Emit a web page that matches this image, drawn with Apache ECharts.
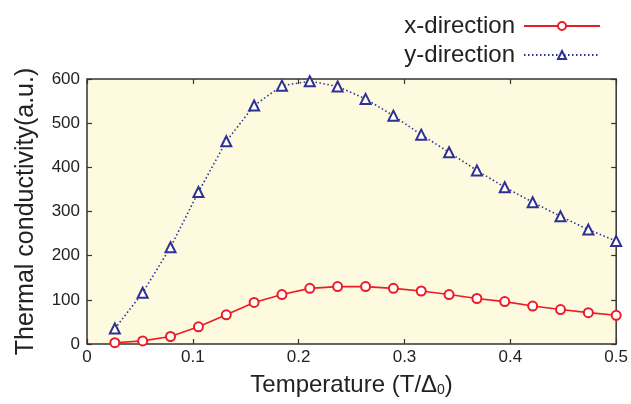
<!DOCTYPE html>
<html>
<head>
<meta charset="utf-8">
<script src="https://cdn.jsdelivr.net/npm/echarts@6/dist/echarts.min.js"></script>
<style>html,body{margin:0;padding:0;background:#fff;}#c{width:631px;height:404px;}</style>
</head>
<body>
<div id="c"></div>
<script>
// Temperature T/Δ0 : k/38 for k = 1..19
const temps = [0.0263,0.0526,0.0789,0.1053,0.1316,0.1579,0.1842,0.2105,0.2368,0.2632,0.2895,0.3158,0.3421,0.3684,0.3947,0.4211,0.4474,0.4737,0.5];
const xDirection = [3,7,17,39,66,94,112,126,130,130,126,120,112,103,96,86,78,71,65];
const yDirection = [35,116,219,344,459,540,585,595,583,555,517,474,434,393,355,321,289,259,233];
const xTicks = [0,0.1,0.2,0.3,0.4,0.5];
const yTicks = [0,100,200,300,400,500,600];

const font = '"Liberation Sans", Arial, Helvetica, sans-serif';
const pair = (xs, ys) => xs.map((x, i) => [x, ys[i]]);
const tick = () => ({show: true, inside: true, length: 5, lineStyle: {color: '#333', width: 1.2}});
const noLine = () => ({show: false, onZero: false});

const chart = echarts.init(document.getElementById('c'), null, {renderer: 'canvas'});
chart.setOption({
  animation: false,
  backgroundColor: '#ffffff',
  textStyle: {fontFamily: font},
  legend: {
    orient: 'vertical',
    right: 25,
    top: 9,
    align: 'right',
    itemWidth: 76,
    itemHeight: 10,
    itemGap: 5,
    textStyle: {fontFamily: font, fontSize: 24, color: '#222', padding: [0, 4, 0, 0]},
    data: ['x-direction', 'y-direction']
  },
  grid: {
    left: 87, right: 12, top: 79, bottom: 60,
    show: true, backgroundColor: '#fefae0', borderColor: '#333', borderWidth: 1.5
  },
  xAxis: [{
    type: 'value', min: xTicks[0], max: xTicks[xTicks.length - 1], interval: 0.1,
    name: 'Temperature (T/Δ{sub|0})', nameLocation: 'middle', nameGap: 29,
    nameTextStyle: {fontSize: 24, color: '#222', fontFamily: font,
      rich: {sub: {fontSize: 14, verticalAlign: 'bottom', padding: [10, 0, 0, 0], color: '#222', fontFamily: font}}},
    axisLine: noLine(),
    axisTick: tick(),
    splitLine: {show: false},
    axisLabel: {fontSize: 17, color: '#222', margin: 5, fontFamily: font,
      formatter: v => (v === 0 ? '0' : String(+v.toFixed(1)))}
  }, {
    type: 'value', position: 'top', min: xTicks[0], max: xTicks[xTicks.length - 1], interval: 0.1,
    axisLine: noLine(), axisTick: tick(), axisLabel: {show: false}, splitLine: {show: false}
  }],
  yAxis: [{
    type: 'value', min: yTicks[0], max: yTicks[yTicks.length - 1], interval: 100,
    name: 'Thermal conductivity(a.u.)', nameLocation: 'middle', nameGap: 48,
    nameTextStyle: {fontSize: 25, color: '#222', fontFamily: font},
    axisLine: noLine(),
    axisTick: tick(),
    splitLine: {show: false},
    axisLabel: {fontSize: 17, color: '#222', margin: 7, fontFamily: font}
  }, {
    type: 'value', position: 'right', min: yTicks[0], max: yTicks[yTicks.length - 1], interval: 100,
    axisLine: noLine(), axisTick: tick(), axisLabel: {show: false}, splitLine: {show: false}
  }],
  series: [{
    name: 'x-direction', type: 'line', data: pair(temps, xDirection),
    symbol: 'emptyCircle', symbolSize: 9, clip: false,
    lineStyle: {color: '#ed1c24', width: 1.6, type: 'solid'},
    itemStyle: {color: '#ed1c24', borderWidth: 1.5}
  }, {
    name: 'y-direction', type: 'line', data: pair(temps, yDirection),
    symbol: 'emptyTriangle', symbolSize: 10, clip: false,
    lineStyle: {color: '#2e3192', width: 1.6, type: [1.5, 2.5]},
    itemStyle: {color: '#2e3192', borderWidth: 1.5}
  }]
});
</script>
</body>
</html>
